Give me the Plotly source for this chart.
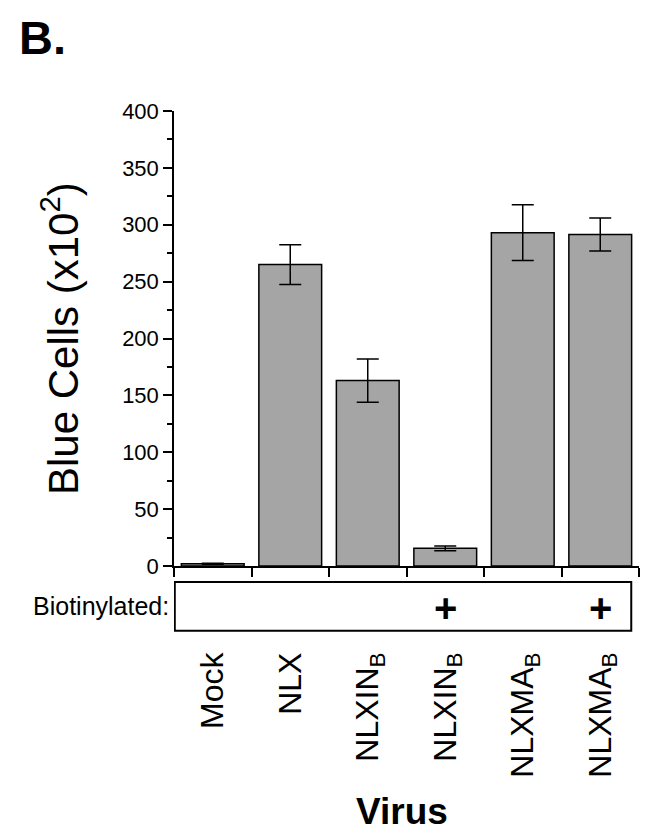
import plotly.graph_objects as go

categories = ["Mock", "NLX", "NLXIN_B", "NLXIN_B (biotin)", "NLXMA_B", "NLXMA_B (biotin)"]
tick_labels = ["Mock", "NLX", "NLXIN<sub>B</sub>", "NLXIN<sub>B</sub>", "NLXMA<sub>B</sub>", "NLXMA<sub>B</sub>"]
blue_cells = [2, 265, 163, 15.5, 293, 291.5]
errors = [0.5, 17.5, 19, 2, 24.5, 14.5]
biotinylated = ["", "", "", "+", "", "+"]

FONT = "Arial, Liberation Sans, sans-serif"

fig = go.Figure()
fig.add_trace(go.Bar(
    x=categories, y=blue_cells,
    marker=dict(color="#a5a5a5", line=dict(color="black", width=1.5)),
    error_y=dict(type="data", array=errors, visible=True, color="black", thickness=1.5, width=11),
    width=0.81,
))

# Biotinylated box
fig.add_shape(type="rect", xref="x", yref="paper", x0=-0.49, x1=5.4, y0=-0.1425, y1=-0.035,
              line=dict(color="black", width=2), fillcolor="white")
for cat, mark in zip(categories, biotinylated):
    if mark:
        fig.add_annotation(x=cat, xref="x", y=-0.092, yref="paper", text="<b>+</b>", showarrow=False,
                           font=dict(family=FONT, size=40, color="black"), xanchor="center", yanchor="middle")
fig.add_annotation(x=-0.0065, xref="paper", y=-0.089, yref="paper", text="Biotinylated:", showarrow=False,
                   font=dict(family=FONT, size=25, color="black"), xanchor="right", yanchor="middle")

# Axis titles and panel label
fig.add_annotation(x=-0.245, xref="paper", y=0.499, yref="paper", text="Blue Cells (x10<sup>2</sup>)",
                   showarrow=False, textangle=-90, font=dict(family=FONT, size=42, color="black"),
                   xanchor="center", yanchor="middle")
fig.add_annotation(x=0.49, xref="paper", y=-0.5396, yref="paper", text="<b>Virus</b>",
                   showarrow=False, font=dict(family=FONT, size=37, color="black"),
                   xanchor="center", yanchor="middle")
fig.add_annotation(x=-0.338, xref="paper", y=1.225, yref="paper", text="<b>B.</b>",
                   showarrow=False, font=dict(family=FONT, size=47, color="black"),
                   xanchor="left", yanchor="top")

fig.update_layout(
    width=654, height=830,
    margin=dict(l=166, r=23, t=103, b=272),
    plot_bgcolor="white", paper_bgcolor="white",
    showlegend=False,
    font=dict(family=FONT, color="black"),
)
fig.update_xaxes(
    type="category", range=[-0.5, 5.5],
    tickmode="array", tickvals=categories, ticktext=tick_labels,
    tickangle=-90, tickfont=dict(family=FONT, size=32, color="black"),
    ticks="outside", tickson="boundaries", ticklen=9, tickwidth=1.5, tickcolor="black",
    showline=True, linecolor="black", linewidth=1.5,
    ticklabelstandoff=72,
    showgrid=False, zeroline=False,
)
fig.update_yaxes(
    range=[0, 400], dtick=50, tick0=0,
    ticks="outside", ticklen=9, tickwidth=1.5, tickcolor="black",
    minor=dict(dtick=25, ticks="outside", ticklen=5, tickwidth=1.5, tickcolor="black", showgrid=False),
    tickfont=dict(family=FONT, size=22, color="black"),
    showline=True, linecolor="black", linewidth=1.5,
    showgrid=False, zeroline=False,
)

fig.write_html("out.html")
